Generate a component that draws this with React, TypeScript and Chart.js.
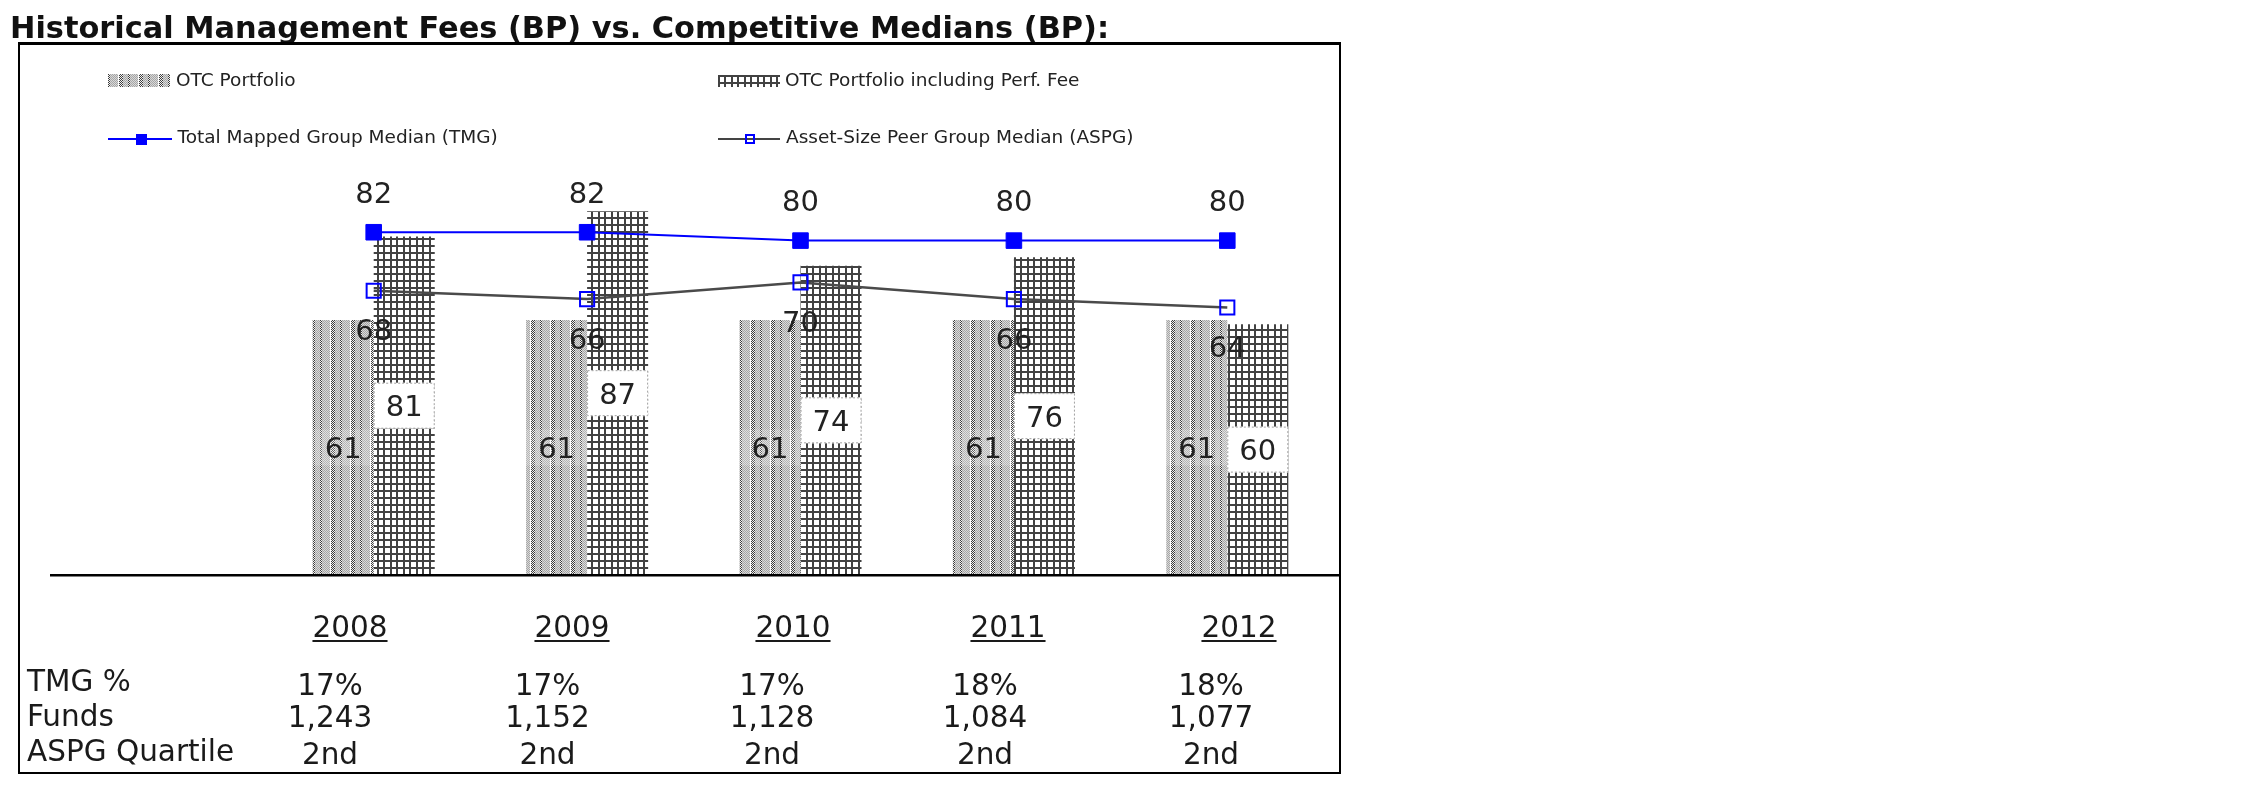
import React, { useEffect, useMemo, useRef } from 'react';
import { Chart, registerables } from 'chart.js';

Chart.register(...registerables);

// ---------- data ----------
const titleText = 'Historical Management Fees (BP) vs. Competitive Medians (BP):';
const categories = ['2008', '2009', '2010', '2011', '2012'];
const otcPortfolio = [61, 61, 61, 61, 61];
const otcPerfFee = [81, 87, 74, 76, 60];
const tmgMedian = [82, 82, 80, 80, 80];
const aspgMedian = [68, 66, 70, 66, 64];
const seriesNames = [
  'OTC Portfolio',
  'OTC Portfolio including Perf. Fee',
  'Total Mapped Group Median (TMG)',
  'Asset-Size Peer Group Median (ASPG)',
];
const rowLabels = ['TMG %', 'Funds', 'ASPG Quartile'];
const tmgPercent = ['17%', '17%', '17%', '18%', '18%'];
const fundsCount = ['1,243', '1,152', '1,128', '1,084', '1,077'];
const aspgQuartile = ['2nd', '2nd', '2nd', '2nd', '2nd'];
const tableRows = [tmgPercent, fundsCount, aspgQuartile];

// ---------- layout (not data) ----------
const FONT = '"DejaVu Sans", Verdana, sans-serif';
const yearCenters = [350, 572, 793, 1008, 1239];
const valueCenters = [330, 547.5, 772, 985, 1211];
const labelBaselines = [691.5, 726.5, 762];
const valueBaselines = [696, 727.5, 764.5];
const TABLE_FS = 29.5;
const baselineOffset = (fs: number) => (fs - 1.164 * fs) / 2 + 0.928 * fs;

function makeOtcTile(): HTMLCanvasElement {
  const c = document.createElement('canvas');
  c.width = 20;
  c.height = 4;
  const g = c.getContext('2d')!;
  for (let x = 0; x < 20; x++) {
    for (let y = 0; y < 4; y++) {
      const on = (x + y) % 2 === 0;
      let col: string;
      if (x < 2 || (x >= 11 && x < 15)) col = on ? '#3c3c3c' : '#f2f2f2';
      else if (x === 10) col = '#ffffff';
      else col = on ? '#a6a6a6' : '#d8d8d8';
      g.fillStyle = col;
      g.fillRect(x, y, 1, 1);
    }
  }
  return c;
}

function makePerfTile(): HTMLCanvasElement {
  const c = document.createElement('canvas');
  c.width = 13;
  c.height = 14;
  const g = c.getContext('2d')!;
  g.fillStyle = '#ffffff';
  g.fillRect(0, 0, 13, 14);
  g.fillStyle = '#424242';
  g.fillRect(0, 0, 2, 14);
  g.fillRect(6, 0, 2, 14);
  g.fillRect(0, 0, 13, 2);
  g.fillRect(0, 7, 13, 2);
  return c;
}

const valueLabelPlugin = {
  id: 'valueLabels',
  afterDatasetsDraw(chart: any) {
    const ctx = chart.ctx as CanvasRenderingContext2D;
    const area = chart.chartArea;
    ctx.save();
    ctx.fillStyle = '#000';
    ctx.fillRect(50, area.bottom - 1, 1289, 2.5);
    const fs = 29;
    ctx.font = `${fs}px ${FONT}`;
    ctx.textAlign = 'center';
    ctx.textBaseline = 'alphabetic';
    const half = 0.3645 * fs;
    chart.data.datasets.forEach((ds: any, di: number) => {
      const meta = chart.getDatasetMeta(di);
      meta.data.forEach((el: any, i: number) => {
        const text = String(ds.data[i]);
        const mode = ds.labelMode;
        if (mode === 'barPlain' || mode === 'barBox') {
          const mid = (el.y + el.base) / 2;
          const w = el.width;
          if (mode === 'barBox') {
            ctx.fillStyle = '#ffffff';
            ctx.fillRect(el.x - w / 2, mid - 23, w, 46);
            ctx.setLineDash([2, 2]);
            ctx.strokeStyle = '#a0a0a0';
            ctx.lineWidth = 1;
            ctx.strokeRect(el.x - w / 2 + 0.5, mid - 22.5, w - 1, 45);
            ctx.setLineDash([]);
          } else {
            ctx.fillStyle = 'rgba(255,255,255,0.18)';
            ctx.fillRect(el.x - w / 2, mid - 18, w, 36);
          }
          ctx.fillStyle = '#222';
          ctx.fillText(text, el.x, mid + half);
        } else if (mode === 'above') {
          ctx.fillStyle = '#222';
          ctx.fillText(text, el.x, el.y - 40 + half);
        } else if (mode === 'below') {
          ctx.fillStyle = '#222';
          ctx.fillText(text, el.x, el.y + 39 + half);
        }
      });
    });
    ctx.restore();
  },
};

export default function App() {
  const canvasRef = useRef<HTMLCanvasElement | null>(null);
  const tiles = useMemo(() => ({ otc: makeOtcTile(), perf: makePerfTile() }), []);

  useEffect(() => {
    const canvas = canvasRef.current;
    if (!canvas) return;
    const ctx = canvas.getContext('2d')!;
    const otcPattern = ctx.createPattern(tiles.otc, 'repeat');
    const perfPattern = ctx.createPattern(tiles.perf, 'repeat');
    const chart = new Chart(canvas, {
      type: 'bar',
      data: {
        labels: categories,
        datasets: [
          {
            type: 'line',
            label: seriesNames[2],
            data: tmgMedian,
            borderColor: '#0000ff',
            borderWidth: 2,
            pointStyle: 'rect',
            pointRadius: 11,
            pointBackgroundColor: '#0000ff',
            pointBorderColor: '#0000ff',
            pointBorderWidth: 1,
            fill: false,
            tension: 0,
            order: 0,
            clip: false,
            labelMode: 'above',
          } as any,
          {
            type: 'line',
            label: seriesNames[3],
            data: aspgMedian,
            borderColor: '#4a4a4a',
            borderWidth: 2.5,
            pointStyle: 'rect',
            pointRadius: 10,
            pointBackgroundColor: 'rgba(0,0,0,0)',
            pointBorderColor: '#0000ff',
            pointBorderWidth: 2,
            fill: false,
            tension: 0,
            order: 1,
            clip: false,
            labelMode: 'below',
          } as any,
          {
            type: 'bar',
            label: seriesNames[0],
            data: otcPortfolio,
            backgroundColor: otcPattern as any,
            borderWidth: 0,
            categoryPercentage: 0.572,
            barPercentage: 1,
            order: 2,
            labelMode: 'barPlain',
          } as any,
          {
            type: 'bar',
            label: seriesNames[1],
            data: otcPerfFee,
            backgroundColor: perfPattern as any,
            borderWidth: 0,
            categoryPercentage: 0.572,
            barPercentage: 1,
            order: 3,
            labelMode: 'barBox',
          } as any,
        ],
      },
      options: {
        responsive: true,
        maintainAspectRatio: false,
        animation: false,
        devicePixelRatio: 1,
        events: [],
        layout: { padding: { left: 267, right: 916, top: 157, bottom: 221 } },
        scales: {
          x: { display: false, offset: true },
          y: { display: false, min: 0, max: 100 },
        },
        plugins: {
          legend: { display: false },
          tooltip: { enabled: false },
          title: { display: false },
        },
      },
      plugins: [valueLabelPlugin as any],
    });
    return () => chart.destroy();
  }, [tiles]);

  const otcUrl = tiles.otc.toDataURL();
  const perfUrl = tiles.perf.toDataURL();
  const LEG_FS = 18.5;
  const legTop = (baseline: number) => baseline - baselineOffset(LEG_FS);
  const tblTop = (baseline: number) => baseline - baselineOffset(TABLE_FS);

  const legText: React.CSSProperties = {
    position: 'absolute',
    fontFamily: FONT,
    fontSize: LEG_FS,
    lineHeight: `${LEG_FS}px`,
    color: '#222',
    whiteSpace: 'nowrap',
  };
  const tblText: React.CSSProperties = {
    position: 'absolute',
    fontFamily: FONT,
    fontSize: TABLE_FS,
    lineHeight: `${TABLE_FS}px`,
    color: '#1a1a1a',
    whiteSpace: 'nowrap',
  };

  return (
    <div
      style={{
        position: 'absolute',
        left: 0,
        top: 0,
        width: 2250,
        height: 796,
        background: '#fff',
        overflow: 'hidden',
      }}
    >
      <div style={{ position: 'absolute', left: 0, top: 0, width: 2250, height: 796 }}>
        <canvas ref={canvasRef} />
      </div>

      {/* title */}
      <div
        style={{
          position: 'absolute',
          left: 10,
          top: 39 - baselineOffset(30.4),
          fontFamily: FONT,
          fontWeight: 'bold',
          fontSize: 30.4,
          lineHeight: '30.4px',
          color: '#111',
          whiteSpace: 'nowrap',
        }}
      >
        {titleText}
      </div>

      {/* frame */}
      <div
        style={{
          position: 'absolute',
          left: 18,
          top: 42,
          width: 1323,
          height: 732,
          boxSizing: 'border-box',
          borderTop: '3px solid #000',
          borderLeft: '2px solid #000',
          borderRight: '2.5px solid #000',
          borderBottom: '2.5px solid #000',
        }}
      />

      {/* legend */}
      <div
        style={{
          position: 'absolute',
          left: 108,
          top: 74,
          width: 62,
          height: 13,
          backgroundImage: `url(${otcUrl})`,
        }}
      />
      <div style={{ ...legText, left: 176, top: legTop(86.5) }}>{seriesNames[0]}</div>
      <div
        style={{
          position: 'absolute',
          left: 718,
          top: 75,
          width: 62,
          height: 12,
          backgroundImage: `url(${perfUrl})`,
        }}
      />
      <div style={{ ...legText, left: 785, top: legTop(86.5) }}>{seriesNames[1]}</div>

      <div style={{ position: 'absolute', left: 108, top: 138, width: 64, height: 2, background: '#0000ff' }} />
      <div style={{ position: 'absolute', left: 136, top: 133.5, width: 11, height: 11, background: '#0000ff' }} />
      <div style={{ ...legText, left: 177.5, top: legTop(143.5) }}>{seriesNames[2]}</div>

      <div style={{ position: 'absolute', left: 718, top: 138, width: 62, height: 2, background: '#444' }} />
      <div
        style={{
          position: 'absolute',
          left: 745,
          top: 134,
          width: 10,
          height: 10,
          boxSizing: 'border-box',
          border: '2px solid #0000ff',
        }}
      />
      <div style={{ ...legText, left: 786, top: legTop(143.5) }}>{seriesNames[3]}</div>

      {/* table */}
      {categories.map((c, i) => (
        <div
          key={'y' + c}
          style={{
            ...tblText,
            left: yearCenters[i] - 100,
            width: 200,
            textAlign: 'center',
            top: tblTop(638),
          }}
        >
          <span
            style={{
              textDecoration: 'underline',
              textDecorationThickness: '2px',
              textUnderlineOffset: '3px',
            }}
          >
            {c}
          </span>
        </div>
      ))}
      {rowLabels.map((r, ri) => (
        <div key={'r' + r} style={{ ...tblText, left: 27, top: tblTop(labelBaselines[ri]) }}>
          {r}
        </div>
      ))}
      {tableRows.map((row, ri) =>
        row.map((v, ci) => (
          <div
            key={'v' + ri + '_' + ci}
            style={{
              ...tblText,
              left: valueCenters[ci] - 100,
              width: 200,
              textAlign: 'center',
              top: tblTop(valueBaselines[ri]),
            }}
          >
            {v}
          </div>
        ))
      )}
    </div>
  );
}
